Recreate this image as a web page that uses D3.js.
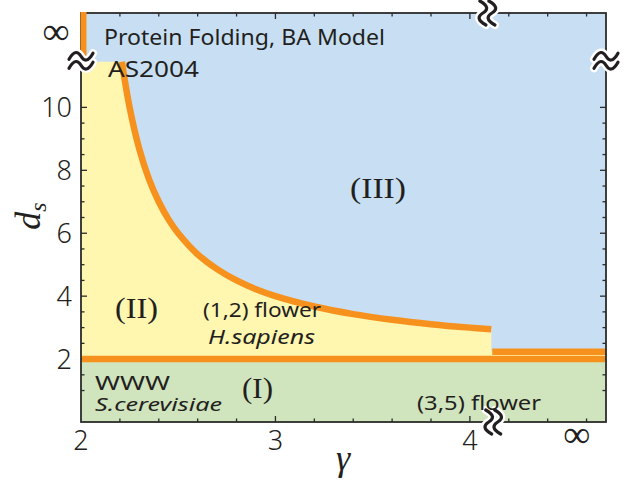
<!DOCTYPE html>
<html><head><meta charset="utf-8">
<script src="https://cdn.jsdelivr.net/npm/d3@7"></script>
<style>body{margin:0;background:#fff}</style>
</head><body><svg id="c" width="637" height="483"></svg>
<script>
// ---- data ----
const gammaDomain = [2, 4.7];
const dsDomain = [0, 13];
const xTickLabels = [2, 3, 4];
const xInfinityPos = 4.55;
const xMinorTicks = [2.2, 2.4, 2.6, 2.8, 3.2, 3.4, 3.6, 3.8, 4.2, 4.4, 4.6];
const xMajorTicks = [3, 4];
const yTickLabels = [2, 4, 6, 8, 10];
const yMinorTicks = [1, 1.5, 2.5, 3, 3.5, 4.5, 5, 5.5, 6.5, 7, 7.5, 8.5, 9, 9.5];
const yInfinityPos = 12.4;
const yBreak = 11.45;
const xBreakTop = 4.09, xBreakBottom = 4.12;
// boundary between region II and III
const curveGamma = [2.21, 2.25, 2.30, 2.35, 2.40, 2.45, 2.50, 2.60, 2.70, 2.80, 2.90, 3.00, 3.20, 3.40, 3.60, 3.80, 4.00, 4.11];
const curveDs    = [11.45, 10.0, 8.67, 7.71, 7.0, 6.44, 6.0, 5.33, 4.86, 4.5, 4.22, 4.0, 3.67, 3.43, 3.25, 3.11, 3.0, 2.95];
const lowerBoundaryDs = 2;     // region I / II
const tailDs = 2.23;           // beyond the break
const tailStart = 4.11;

const svg = d3.select("#c");
const x = d3.scaleLinear().domain(gammaDomain).range([81, 606]);
const y = d3.scaleLinear().domain(dsDomain).range([422, 13]);
const X0 = x(gammaDomain[0]), X1 = x(gammaDomain[1]), Y0 = y(dsDomain[0]), Y1 = y(dsDomain[1]);

const BLUE = "#c8dff3", YELLOW = "#fff6b0", GREEN = "#d0e4bd", ORANGE = "#f6911e", INK = "#231f20";
const SANS = "'Noto Sans', sans-serif", SERIF = "'Liberation Serif', 'Times New Roman', serif";

// backgrounds
svg.append("rect").attr("x", X0).attr("y", Y1).attr("width", X1 - X0).attr("height", Y0 - Y1).attr("fill", BLUE);
svg.append("rect").attr("x", X0).attr("y", y(lowerBoundaryDs)).attr("width", X1 - X0).attr("height", Y0 - y(lowerBoundaryDs)).attr("fill", GREEN);

const pts = curveGamma.map((g, i) => [g, curveDs[i]]);
const line = d3.line().x(d => x(d[0])).y(d => y(d[1])).curve(d3.curveCatmullRom.alpha(0.5));
const curveStr = line(pts);
const yellowPath = `M${X0},${y(lowerBoundaryDs)}L${X0},${y(yBreak)}L` + curveStr.slice(1) +
  `L${x(tailStart)},${y(tailDs)}L${X1},${y(tailDs)}L${X1},${y(lowerBoundaryDs)}Z`;
svg.append("path").attr("d", yellowPath).attr("fill", YELLOW);

// orange boundaries
const LW = 6.5;
svg.append("path").attr("d", curveStr).attr("fill", "none").attr("stroke", ORANGE).attr("stroke-width", LW);
svg.append("line").attr("x1", x(tailStart) + 1).attr("x2", X1).attr("y1", y(tailDs)).attr("y2", y(tailDs))
  .attr("stroke", ORANGE).attr("stroke-width", LW);

// frame
const ax = svg.append("g").attr("stroke", "#2b2b2b").attr("fill", "none");
ax.append("rect").attr("x", X0).attr("y", Y1).attr("width", X1 - X0).attr("height", Y0 - Y1).attr("stroke-width", 1.8);
// vertical orange at gamma = 2 above the break
svg.append("line").attr("x1", X0 + 2.5).attr("x2", X0 + 2.5).attr("y1", Y1 - 1).attr("y2", y(yBreak))
  .attr("stroke", ORANGE).attr("stroke-width", 6);

// ticks
function xt(v, len) {
  ax.append("line").attr("x1", x(v)).attr("x2", x(v)).attr("y1", Y0).attr("y2", Y0 - len).attr("stroke-width", 1.3);
  ax.append("line").attr("x1", x(v)).attr("x2", x(v)).attr("y1", Y1).attr("y2", Y1 + len).attr("stroke-width", 1.3);
}
function yt(v, len) {
  ax.append("line").attr("y1", y(v)).attr("y2", y(v)).attr("x1", X0).attr("x2", X0 + len).attr("stroke-width", 1.3);
  ax.append("line").attr("y1", y(v)).attr("y2", y(v)).attr("x1", X1).attr("x2", X1 - len).attr("stroke-width", 1.3);
}
xMinorTicks.forEach(v => xt(v, 3.5));
xMajorTicks.forEach(v => xt(v, 6));
yMinorTicks.forEach(v => yt(v, 3.5));
yTickLabels.forEach(v => yt(v, 6));

// orange d=2 line over the ticks
svg.append("line").attr("x1", X0 + 1).attr("x2", X1 - 1).attr("y1", y(lowerBoundaryDs)).attr("y2", y(lowerBoundaryDs))
  .attr("stroke", ORANGE).attr("stroke-width", LW);

// tick labels
const tl = svg.append("g").attr("fill", INK).attr("font-family", SANS).attr("font-weight", 300);
xTickLabels.forEach(v => tl.append("text").attr("x", x(v)).attr("y", 450).attr("text-anchor", "middle").attr("font-size", 27).text(v));
tl.append("text").attr("x", x(xInfinityPos)).attr("y", 447).attr("text-anchor", "middle").attr("font-size", 38)
  .attr("font-family", SERIF).text("∞");
yTickLabels.forEach(v => tl.append("text").attr("x", 72).attr("y", y(v)).attr("dy", "0.36em").attr("text-anchor", "end").attr("font-size", 27).text(v));
tl.append("text").attr("x", 56).attr("y", y(yInfinityPos)).attr("dy", "0.33em").attr("text-anchor", "middle").attr("font-size", 38)
  .attr("font-family", SERIF).text("∞");

// break marks
function brk(cx, cy, rot) {
  const g = svg.append("g").attr("transform", `translate(${cx},${cy}) rotate(${rot})`);
  const t = "M-12,3 C-7,-6 -3,-5 0,0 S7,6 12,-3";
  [-4.5, 4.5].forEach(dy => {
    g.append("path").attr("d", t).attr("transform", `translate(0,${dy})`).attr("fill", "none").attr("stroke", "#fff").attr("stroke-width", 8).attr("stroke-linecap", "round");
  });
  [-4.5, 4.5].forEach(dy => {
    g.append("path").attr("d", t).attr("transform", `translate(0,${dy})`).attr("fill", "none").attr("stroke", INK).attr("stroke-width", 3.2).attr("stroke-linecap", "round");
  });
}
brk(X0, y(yBreak) - 1, 0);
brk(X1, y(yBreak) - 1, 0);
brk(x(xBreakTop), Y1, 90);
brk(x(xBreakBottom), Y0, 90);

// annotations
const ann = svg.append("g").attr("fill", INK);
function txt(s, px, py, size, fam, style, len) {
  const t = ann.append("text").attr("x", px).attr("y", py).attr("font-size", size).attr("font-family", fam)
    .attr("font-style", style || "normal").text(s);
  if (len) t.attr("textLength", len).attr("lengthAdjust", "spacingAndGlyphs");
  return t;
}
txt("Protein Folding, BA Model", 104, 45, 22, SANS, null, 281);
txt("AS2004", 108, 77, 22, SANS, null, 91);
txt("(III)", 350, 198, 30, SERIF, null, 56);
txt("(II)", 115, 318, 30, SERIF, null, 43);
txt("(I)", 242, 398, 30, SERIF, null, 31);
txt("(1,2) flower", 203, 317, 20, SANS, null, 118);
txt("H.sapiens", 208, 344, 20, SANS, "italic", 107);
txt("WWW", 95, 390, 20, SANS, null, 75);
txt("S.cerevisiae", 95, 411, 18, SANS, "italic", 127);
txt("(3,5) flower", 417, 410, 20, SANS, null, 124);

// axis titles
const yl = svg.append("text").attr("transform", "translate(40,216) rotate(-90)").attr("text-anchor", "middle")
  .attr("font-family", SERIF).attr("font-style", "italic").attr("fill", INK);
yl.append("tspan").attr("font-size", 36).text("d");
yl.append("tspan").attr("font-size", 24).attr("dy", 6).text("s");
svg.append("text").attr("x", 343).attr("y", 470).attr("text-anchor", "middle").attr("font-family", SERIF)
  .attr("font-style", "italic").attr("font-size", 36).attr("fill", INK).text("γ");
</script>
</body></html>
